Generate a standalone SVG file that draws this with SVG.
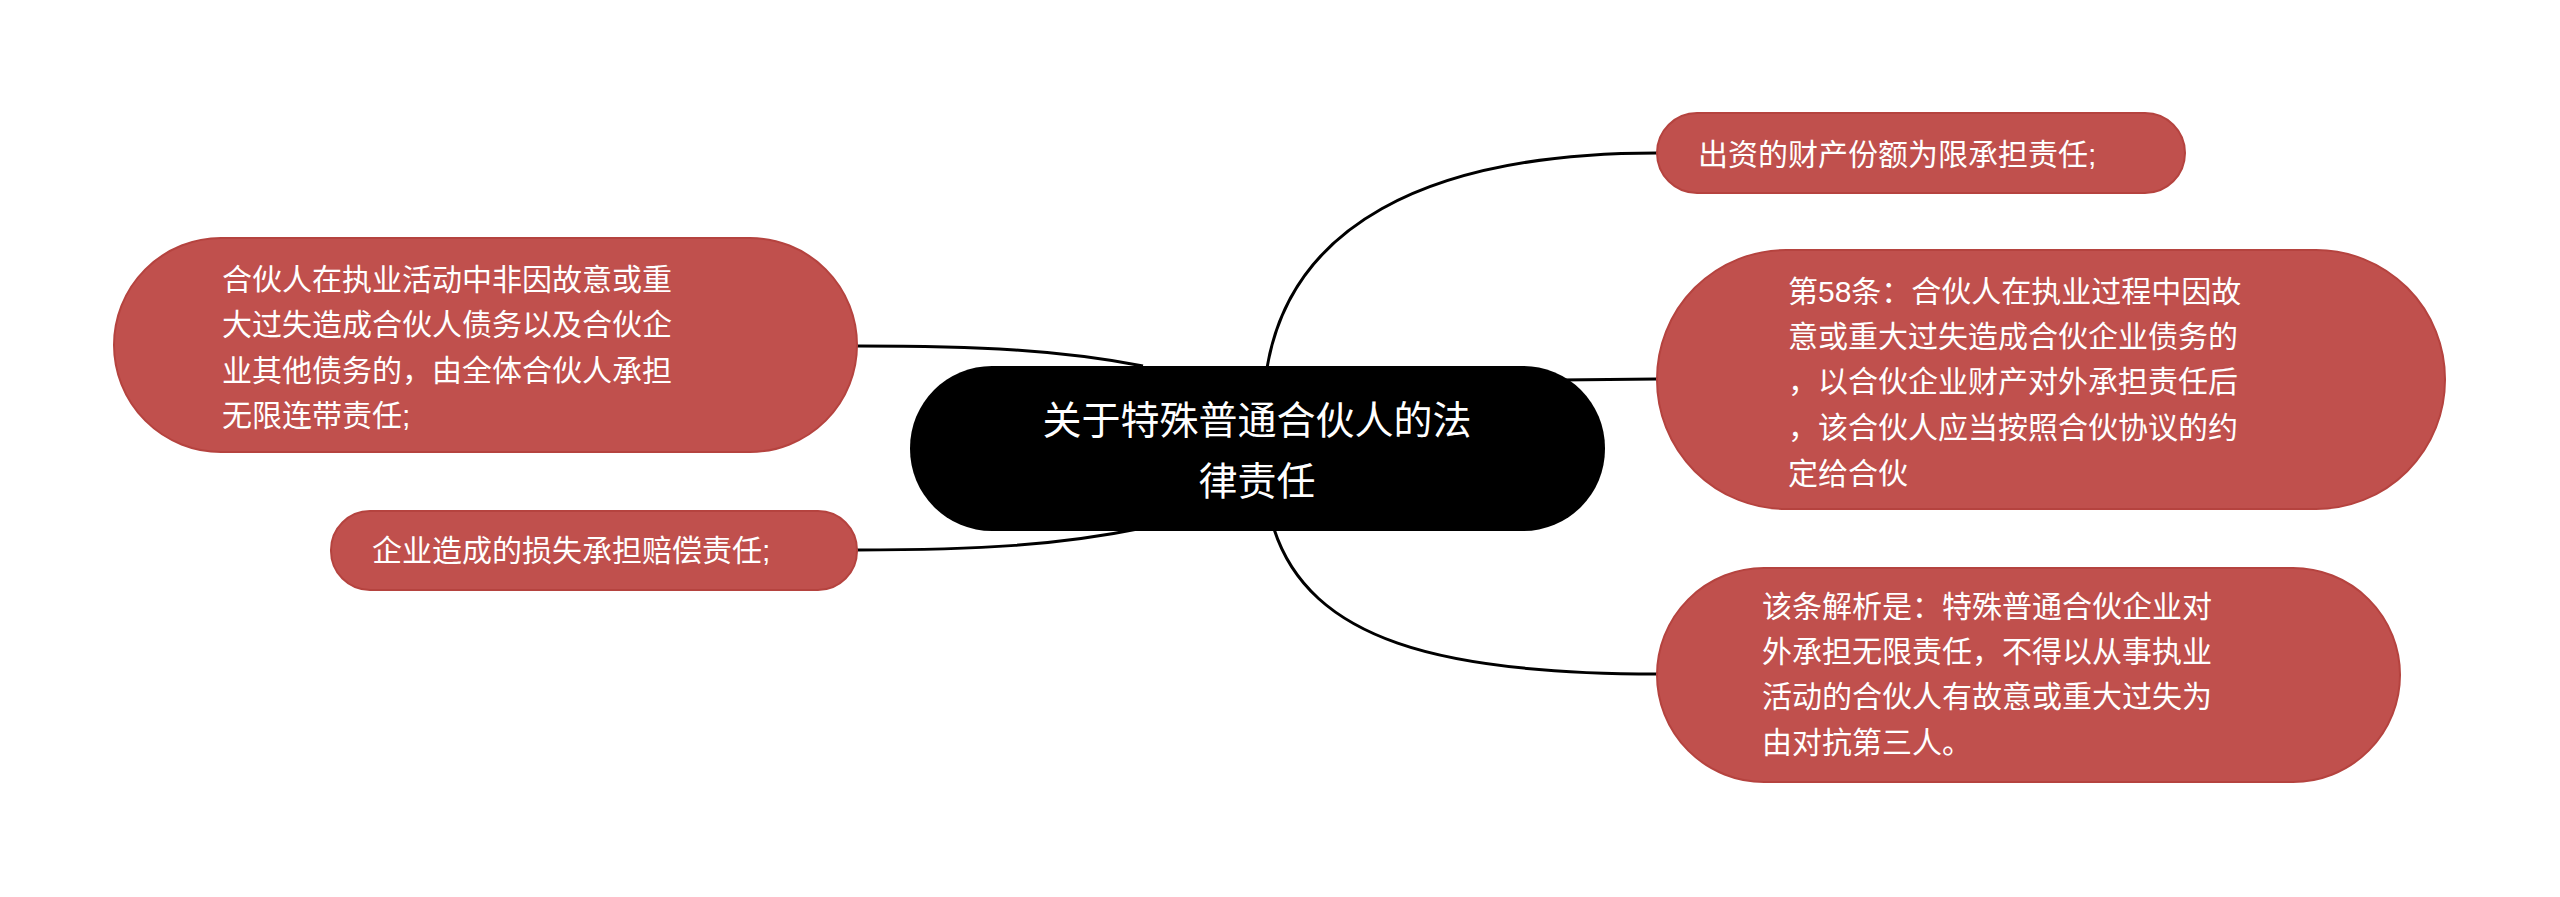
<svg xmlns="http://www.w3.org/2000/svg" width="2560" height="897" viewBox="0 0 2560 897">
<style>
.n{fill:#C0504D;stroke:#B5433F;stroke-width:2}
.t{fill:#fff;font-family:"Liberation Sans","Noto Sans CJK SC",sans-serif;font-size:30px}
.c{fill:none;stroke:#000;stroke-width:3}
</style>
<rect width="2560" height="897" fill="#fff"/>
<g id="connectors">
<path class="c" d="M1267,368 C1290,230 1420,153 1657,153"/>
<path class="c" d="M1560,380 L1657,379"/>
<path class="c" d="M1274,529 C1310,640 1440,674 1657,674"/>
<path class="c" d="M1143,366 C1060,350 980,346 857,346"/>
<path class="c" d="M1143,528 C1060,545 980,550 857,550"/>
</g>
<g id="center">
<rect x="910" y="366" width="695" height="165" rx="82" fill="#000"/>
<text x="1257" y="434" text-anchor="middle" style="fill:#fff;font-family:'Liberation Sans','Noto Sans CJK SC',sans-serif;font-size:39px">关于特殊普通合伙人的法</text>
<text x="1257" y="495" text-anchor="middle" style="fill:#fff;font-family:'Liberation Sans','Noto Sans CJK SC',sans-serif;font-size:39px">律责任</text>
</g>
<g id="n1">
<rect class="n" x="1657" y="113" width="528" height="80" rx="40"/>
<text class="t" x="1698" y="165">出资的财产份额为限承担责任;</text>
</g>
<g id="n2">
<rect class="n" x="1657" y="250" width="788" height="259" rx="129"/>
<text class="t" x="1788" y="302">第58条：合伙人在执业过程中因故</text>
<text class="t" x="1788" y="347">意或重大过失造成合伙企业债务的</text>
<text class="t" x="1788" y="392">，以合伙企业财产对外承担责任后</text>
<text class="t" x="1788" y="438">，该合伙人应当按照合伙协议的约</text>
<text class="t" x="1788" y="484">定给合伙</text>
</g>
<g id="n3">
<rect class="n" x="1657" y="568" width="743" height="214" rx="107"/>
<text class="t" x="1762" y="617">该条解析是：特殊普通合伙企业对</text>
<text class="t" x="1762" y="662">外承担无限责任，不得以从事执业</text>
<text class="t" x="1762" y="707">活动的合伙人有故意或重大过失为</text>
<text class="t" x="1762" y="753">由对抗第三人。</text>
</g>
<g id="l1">
<rect class="n" x="114" y="238" width="743" height="214" rx="107"/>
<text class="t" x="222" y="290">合伙人在执业活动中非因故意或重</text>
<text class="t" x="222" y="335">大过失造成合伙人债务以及合伙企</text>
<text class="t" x="222" y="381">业其他债务的，由全体合伙人承担</text>
<text class="t" x="222" y="426">无限连带责任;</text>
</g>
<g id="l2">
<rect class="n" x="331" y="511" width="526" height="79" rx="39"/>
<text class="t" x="372" y="561">企业造成的损失承担赔偿责任;</text>
</g>
</svg>
